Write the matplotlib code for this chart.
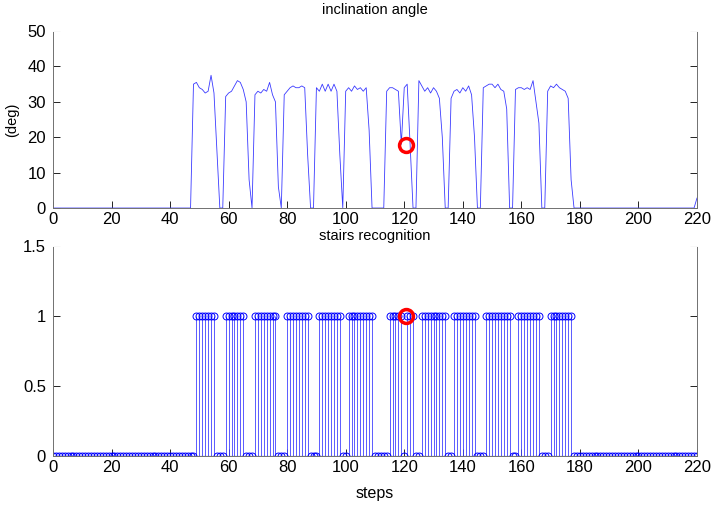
import numpy as np
import matplotlib
matplotlib.use("Agg")
import matplotlib.pyplot as plt

plt.rcParams["font.family"] = ["Liberation Sans", "DejaVu Sans"]

# steps 0..220
steps = np.arange(0, 221)

# inclination angle (deg)
angle = ([0] * 48 +
         [35, 35.5, 34, 33.5, 32.5, 33, 37.5, 32.5, 16, 0,            # 48-57
          0, 31.5, 32.5, 33, 34.5, 36, 35.5, 33.5, 30, 8, 0,          # 58-68
          32, 33, 32.5, 33.5, 33, 35.5, 32, 30, 6, 0,                 # 69-78
          32, 33, 34, 34.5, 34, 34, 34.5, 34, 15, 0, 0,               # 79-89
          34, 33, 35, 33, 35, 33, 35, 33, 15, 0,                      # 90-99
          33, 34, 33, 34.5, 33.5, 34, 33, 34, 22, 0,                  # 100-109
          0, 0, 0, 0, 33, 34, 34, 33.5, 33, 18, 34, 35, 18, 0, 0,     # 110-124
          36, 34.5, 33, 34, 32.5, 34, 33, 31, 20, 0, 0,               # 125-135
          31, 33, 33.5, 32.5, 34, 33, 34.5, 32, 20, 0, 0,             # 136-146
          34, 34.5, 35, 35, 34, 35, 33.5, 33, 28, 0, 0,               # 147-157
          33.5, 34, 34, 33.5, 34, 33.5, 36, 30, 24, 0, 0,             # 158-168
          33, 34.5, 34, 35, 34, 33.5, 33, 31, 8, 0] +                 # 169-178
         [0] * 41 + [2.8])                                           # 179-220
angle = np.array(angle, dtype=float)

# tratti in cui le scale sono riconosciute (valore 1)
stairs_on = [(49, 55), (59, 65), (69, 76), (80, 87), (91, 98), (101, 109),
             (115, 119), (121, 123), (126, 134), (137, 144), (148, 156),
             (159, 166), (170, 177)]
stairs = np.zeros(len(steps))
for a, b in stairs_on:
    stairs[a:b + 1] = 1

# punto evidenziato
mark_step = 120.6
mark_angle = 17.8
mark_stairs = 1.0

fig = plt.figure(figsize=(7.12, 5.07), dpi=100)
ax1 = fig.add_axes([0.0744, 0.5897, 0.9045, 0.349])
ax2 = fig.add_axes([0.0744, 0.1006, 0.9045, 0.4142])

ax1.plot(steps, angle, color="#3a3aff", linewidth=0.6)
ax1.plot([mark_step], [mark_angle], "o", markersize=10, markerfacecolor="none",
         markeredgecolor="red", markeredgewidth=2.5)
ax1.set_xlim(0, 220)
ax1.set_ylim(0, 50)
ax1.set_xticks(np.arange(0, 221, 20))
ax1.set_yticks(np.arange(0, 51, 10))
ax1.set_title("inclination angle", fontsize=10.5, pad=12)
ax1.set_ylabel("(deg)", fontsize=10.5, labelpad=6)

ml, sl, bl = ax2.stem(steps, stairs, basefmt="-")
plt.setp(ml, marker="o", markersize=5, markerfacecolor="none",
         markeredgecolor="#0000ff", markeredgewidth=0.7)
plt.setp(sl, color="#4040ff", linewidth=0.6)
plt.setp(bl, color="#000080", linewidth=0.8)
ax2.plot([mark_step], [mark_stairs], "o", markersize=10, markerfacecolor="none",
         markeredgecolor="red", markeredgewidth=2.5)
ax2.set_xlim(0, 220)
ax2.set_ylim(0, 1.5)
ax2.set_xticks(np.arange(0, 221, 20))
ax2.set_yticks([0, 0.5, 1, 1.5])
ax2.set_yticklabels(["0", "0.5", "1", "1.5"])
ax2.set_title("stairs recognition", fontsize=10.5, pad=4)
ax2.set_xlabel("steps", fontsize=11.5, labelpad=8)

for ax in (ax1, ax2):
    ax.tick_params(direction="in", length=5, width=0.6, labelsize=12,
                   top=False, right=True, colors="black")
    ax.tick_params(axis="x", pad=3)
    ax.tick_params(axis="y", pad=5)
    for s in ax.spines.values():
        s.set_color("#707070")
        s.set_linewidth(0.7)
    ax.spines["top"].set_color("white")

plt.savefig("out.png", dpi=100)
